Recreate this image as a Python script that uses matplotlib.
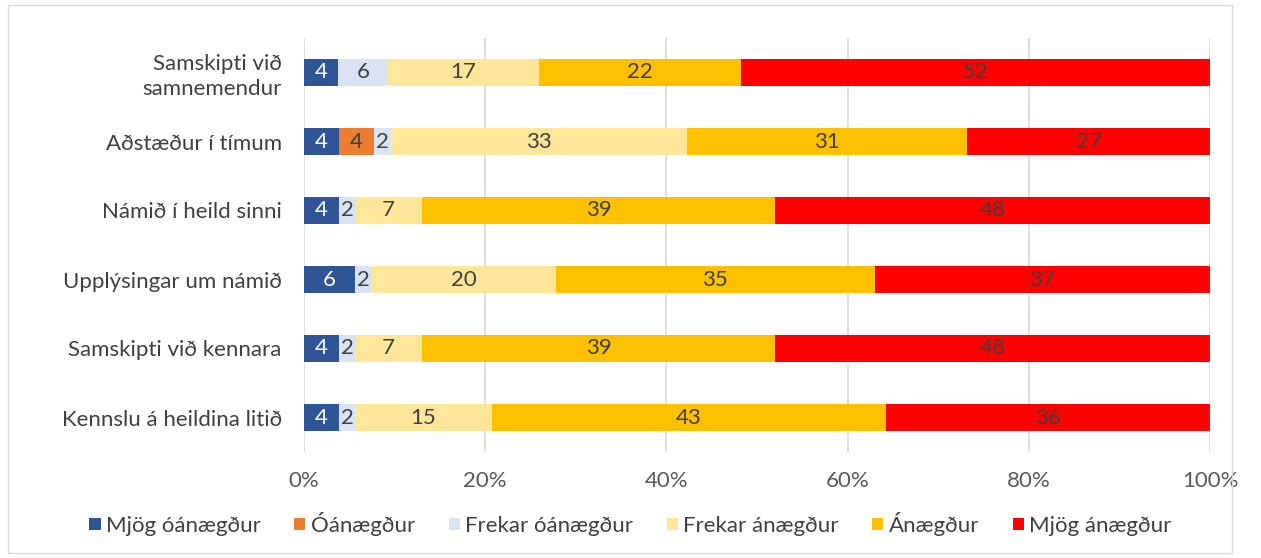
import matplotlib.pyplot as plt
import numpy as np

plt.rcParams['font.family'] = ['Lato', 'DejaVu Sans']

categories = ["Samskipti við\nsamnemendur", "Aðstæður í tímum", "Námið í heild sinni",
              "Upplýsingar um námið", "Samskipti við kennara", "Kennslu á heildina litið"]
series = ["Mjög óánægður", "Óánægður", "Frekar óánægður", "Frekar ánægður", "Ánægður", "Mjög ánægður"]
colors = ["#2F5597", "#ED7D31", "#DAE3F3", "#FFE699", "#FFC000", "#FF0000"]

# shares in % (bar widths)
mjog_oanaegdur = [3.8, 3.9, 3.9, 5.6, 3.9, 3.9]
oanaegdur = [0, 3.8, 0, 0, 0, 0]
frekar_oanaegdur = [5.5, 1.9, 1.8, 1.9, 1.8, 1.7]
frekar_anaegdur = [16.6, 32.7, 7.3, 20.3, 7.3, 15.1]
anaegdur = [22.3, 30.9, 39.0, 35.2, 39.0, 43.5]
mjog_anaegdur = [51.8, 26.8, 48.1, 37.0, 48.1, 35.8]

# printed labels
labels = [
    [4, 4, 4, 6, 4, 4],
    [None, 4, None, None, None, None],
    [6, 2, 2, 2, 2, 2],
    [17, 33, 7, 20, 7, 15],
    [22, 31, 39, 35, 39, 43],
    [52, 27, 48, 37, 48, 36],
]

data = [mjog_oanaegdur, oanaegdur, frekar_oanaegdur, frekar_anaegdur, anaegdur, mjog_anaegdur]
fs = 16

fig = plt.figure(figsize=(12.61, 5.58), dpi=100)
ax = fig.add_axes([304 / 1261, 1 - 452 / 558, 906 / 1261, 414 / 558])

y = np.arange(len(categories))
left = np.zeros(len(categories))
for i, (vals, name, c) in enumerate(zip(data, series, colors)):
    vals = np.array(vals)
    bars = ax.barh(y, vals, left=left, height=0.4, color=c, label=name, zorder=3)
    txtc = "white" if i == 0 else "#404040"
    for j, b in enumerate(bars):
        if labels[i][j] is not None:
            ax.text(left[j] + vals[j] / 2, y[j], str(labels[i][j]), ha="center", va="center",
                    color=txtc, fontsize=fs, zorder=4)
    left += vals

ax.set_xlim(0, 100)
ax.set_ylim(len(categories) - 0.5, -0.5)
ax.set_yticks(y)
ax.set_yticklabels(categories, fontsize=fs, color="#404040", linespacing=1.3)
ax.set_xticks(np.arange(0, 101, 20))
ax.set_xticklabels([f"{t}%" for t in range(0, 101, 20)], fontsize=fs, color="#595959")
ax.tick_params(axis="both", length=0)
ax.tick_params(axis="y", pad=16)
ax.tick_params(axis="x", pad=14)
for s in ax.spines.values():
    s.set_visible(False)
ax.grid(axis="x", color="#D9D9D9", linewidth=1.2, zorder=0)

fig.legend(loc="center", bbox_to_anchor=(0.5, 1 - 524 / 558), ncol=6, frameon=False,
           fontsize=fs, handlelength=0.5, handleheight=0.5, handletextpad=0.25,
           columnspacing=1.5, labelcolor="#404040")

fig.patches.append(plt.Rectangle((8 / 1261, 5 / 558), 1224 / 1261, 548 / 558,
                                 transform=fig.transFigure, fill=False,
                                 edgecolor="#D9D9D9", linewidth=1))

fig.savefig("out.png", dpi=100)
